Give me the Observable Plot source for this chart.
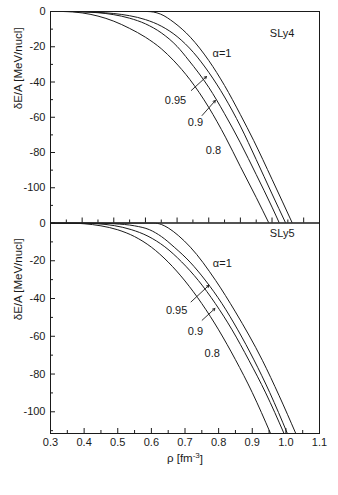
<!DOCTYPE html>
<html><head><meta charset="utf-8">
<script src="https://cdn.jsdelivr.net/npm/d3@7"></script>
<script src="https://cdn.jsdelivr.net/npm/@observablehq/plot@0.6"></script>
<style>
body{margin:0;background:#fff;}
#c{position:relative;width:338px;height:495px;}
#c svg{position:absolute;left:0;overflow:visible;}
</style></head><body><div id="c"></div>
<script>
// ---- data: SLy4 (top panel) ----
const sly4_rho_a1   = [0.30, 0.605, 0.625, 0.648, 0.690, 0.742, 0.800, 0.850, 0.900, 0.942, 1.000, 1.064];
const sly4_E_a1     = [0,    0,     -0.3,  -1.5,  -6.2,  -14.6, -27.8, -42,   -58.5, -73.2, -95.2, -120];
const sly4_rho_a095 = [0.30, 0.37, 0.40,  0.45, 0.50,  0.55, 0.60, 0.65, 0.70,  0.752, 0.80,  0.85,  0.90, 0.95, 1.00,   1.043];
const sly4_E_a095   = [0,    0,    -0.15, -0.5, -1.15, -2.4, -4.6, -8.3, -14.2, -23.3, -34.5, -48.5, -65,  -84,  -103.5, -120];
const sly4_rho_a09  = [0.30, 0.354, 0.40, 0.45, 0.50, 0.55, 0.60, 0.65,  0.70,  0.736, 0.80, 0.85, 0.90,  0.95,  1.00, 1.023];
const sly4_E_a09    = [0,    0,     -0.2, -0.7, -1.8, -3.8, -7.0, -12.1, -19.8, -27.5, -43,  -58,  -74.5, -92.5, -111, -120];
const sly4_rho_a08  = [0.30, 0.34, 0.40, 0.45, 0.50, 0.55, 0.60,  0.65,  0.69, 0.74,  0.80,  0.853, 0.90, 0.95,   0.99];
const sly4_E_a08    = [0,    0,    -0.8, -2.6, -5.5, -9.6, -14.6, -21.1, -28,  -38.5, -54.4, -71.3, -88,  -105.5, -120];
// ---- data: SLy5 (bottom panel) ----
const sly5_rho_a1   = [0.30, 0.607, 0.630, 0.650, 0.680, 0.716, 0.791, 0.850, 0.930, 0.980, 1.029];
const sly5_E_a1     = [0,    0,     -0.8,  -2.6,  -6.6,  -12.8, -30.4, -47.1, -72.7, -91.5, -111.3];
const sly5_rho_a095 = [0.30, 0.43, 0.49, 0.55, 0.595, 0.63, 0.668, 0.715, 0.762, 0.81,  0.857, 0.905, 0.952, 1.004];
const sly5_E_a095   = [0,    0,    -0.4, -1.5, -3.6,  -7.2, -12.8, -20.7, -30.7, -42.7, -56.6, -72.5, -89.8, -111.3];
const sly5_rho_a09  = [0.30, 0.39, 0.44, 0.49, 0.54, 0.59, 0.64,  0.69,  0.74,  0.79,  0.84,  0.89,  0.94,  0.994];
const sly5_E_a09    = [0,    0,    -0.4, -1.4, -3.5, -7.0, -12.6, -20.6, -30.5, -42.6, -56.6, -72.7, -90.0, -111.3];
const sly5_rho_a08  = [0.30, 0.35, 0.40, 0.45, 0.50, 0.55, 0.60,  0.65,  0.70,  0.75,  0.80,  0.85,  0.90,  0.954];
const sly5_E_a08    = [0,    0,    -0.4, -1.5, -3.6, -7.2, -12.8, -20.7, -30.7, -42.7, -56.6, -72.4, -89.8, -111.3];
// ---- labels ----
const curveLabels = ["α=1", "0.95", "0.9", "0.8"];
const sly4_labelRho = [0.842, 0.695, 0.758, 0.815];
const sly4_labelE   = [-24,   -50.5, -62.8, -78.8];
const sly5_labelRho = [0.811, 0.675, 0.731, 0.781];
const sly5_labelE   = [-21.2, -46.2, -57.2, -69.1];
const panelNames = ["SLy4", "SLy5"];
const panelNameRho = [1.032, 0.989];
const panelNameE = [-12.5, -5.5];
// arrows (for 0.95 and 0.9)
const sly4_arrow_x1 = [0.745, 0.779], sly4_arrow_y1 = [-44.8, -59];
const sly4_arrow_x2 = [0.793, 0.821], sly4_arrow_y2 = [-36.9, -50.5];
const sly5_arrow_x1 = [0.718, 0.751], sly5_arrow_y1 = [-41.8, -51.5];
const sly5_arrow_x2 = [0.771, 0.789], sly5_arrow_y2 = [-33, -45.3];
// ---- ticks ----
const yMajor = [0, -20, -40, -60, -80, -100];
const yMinorTop = [-10, -30, -50, -70, -90, -110];
const yMinorBot = [-10, -30, -50, -70, -90, -110];
const xMajor = [0.3, 0.4, 0.5, 0.6, 0.7, 0.8, 0.9, 1.0, 1.1];
const xMinorTop = [0.35, 0.45, 0.55, 0.65, 0.75, 0.85, 0.95, 1.05, 1.15];
const xMinorBot = [0.35, 0.45, 0.55, 0.65, 0.75, 0.85, 0.95, 1.05];
const xTickLabels = ["0.3","0.4","0.5","0.6","0.7","0.8","0.9","1.0","1.1"];
const yLabel = "δE/A [MeV/nucl]";
const xLabel = "ρ [fm-3]";

const font = "'Liberation Sans', Arial, Helvetica, sans-serif";
const ink = "#1a1a1a";

function series(rho, E) { return rho.map((r, i) => ({rho: r, E: E[i]})); }
function zipLabels(xs, ys, ts) { return xs.map((x, i) => ({x, y: ys[i], t: ts[i]})); }
function zipArrows(x1, y1, x2, y2) { return x1.map((x, i) => ({x1: x, y1: y1[i], x2: x2[i], y2: y2[i]})); }

function panel(opts) {
  const {curves, labels, arrows, name, nameRho, nameE, ydom, xdom, xMinor, yMinor, height, marginTop, marginBottom, bottomLabels} = opts;
  const marks = [
    Plot.frame({stroke: ink, strokeWidth: 1}),
    ...curves.map(c => Plot.line(c, {x: "rho", y: "E", stroke: ink, strokeWidth: 1, curve: "monotone-x", clip: true})),
    Plot.text(labels, {x: "x", y: "y", text: "t", fill: ink, fontSize: 11}),
    Plot.arrow(arrows, {x1: "x1", y1: "y1", x2: "x2", y2: "y2", stroke: ink, strokeWidth: 0.9, headLength: 4}),
    Plot.text([{x: nameRho, y: nameE, t: name}], {x: "x", y: "y", text: "t", fill: ink, fontSize: 11}),
    Plot.axisY(yMajor, {anchor: "left", tickSize: -5, tickPadding: 10, tickFormat: d => String(d), label: null, stroke: ink, fill: ink}),
    Plot.axisY(yMinor, {anchor: "left", tickSize: -3, tickFormat: () => "", label: null, stroke: ink}),
    Plot.axisX(xMajor, {anchor: "bottom", tickSize: -5, tickPadding: 10,
      tickFormat: bottomLabels ? (d => xTickLabels[xMajor.indexOf(d)]) : (() => ""), label: null, stroke: ink, fill: ink}),
    Plot.axisX(xMinor, {anchor: "bottom", tickSize: -3, tickFormat: () => "", label: null, stroke: ink}),
    Plot.text([yLabel], {frameAnchor: "left", rotate: -90, dx: -32, dy: -8, fill: ink, fontSize: 11.5})
  ];
  if (bottomLabels) {
    marks.push(Plot.text([xLabel], {frameAnchor: "bottom", dy: 28, fill: ink, fontSize: 11.5}));
  }
  return Plot.plot({
    width: 338, height, marginLeft: 50, marginRight: 19, marginTop, marginBottom,
    x: {domain: xdom}, y: {domain: ydom},
    style: {fontFamily: font, fontSize: "11px", color: ink, background: "transparent"},
    marks
  });
}

const topPanel = panel({
  curves: [series(sly4_rho_a1, sly4_E_a1), series(sly4_rho_a095, sly4_E_a095), series(sly4_rho_a09, sly4_E_a09), series(sly4_rho_a08, sly4_E_a08)],
  labels: zipLabels(sly4_labelRho, sly4_labelE, curveLabels),
  arrows: zipArrows(sly4_arrow_x1, sly4_arrow_y1, sly4_arrow_x2, sly4_arrow_y2),
  name: panelNames[0], nameRho: panelNameRho[0], nameE: panelNameE[0],
  ydom: [-120, 0], xdom: [0.3, 1.15], xMinor: xMinorTop, yMinor: yMinorTop,
  height: 223, marginTop: 11, marginBottom: 0.5, bottomLabels: false
});
const botPanel = panel({
  curves: [series(sly5_rho_a1, sly5_E_a1), series(sly5_rho_a095, sly5_E_a095), series(sly5_rho_a09, sly5_E_a09), series(sly5_rho_a08, sly5_E_a08)],
  labels: zipLabels(sly5_labelRho, sly5_labelE, curveLabels),
  arrows: zipArrows(sly5_arrow_x1, sly5_arrow_y1, sly5_arrow_x2, sly5_arrow_y2),
  name: panelNames[1], nameRho: panelNameRho[1], nameE: panelNameE[1],
  ydom: [-111.5, 0], xdom: [0.3, 1.1], xMinor: xMinorBot, yMinor: yMinorBot,
  height: 273, marginTop: 0.5, marginBottom: 62, bottomLabels: true
});
topPanel.style.top = "0px";
botPanel.style.top = "222px";
const container = document.getElementById("c");
container.appendChild(botPanel);
container.appendChild(topPanel);

// superscript on the x label
d3.select(botPanel).selectAll("text").each(function() {
  if (this.textContent === xLabel) {
    const t = d3.select(this);
    t.text(null);
    t.append("tspan").text("ρ [fm");
    t.append("tspan").attr("dy", "-0.45em").attr("font-size", "8px").text("-3");
    t.append("tspan").attr("dy", "0.45em").text("]");
  }
});
</script>
</body></html>
